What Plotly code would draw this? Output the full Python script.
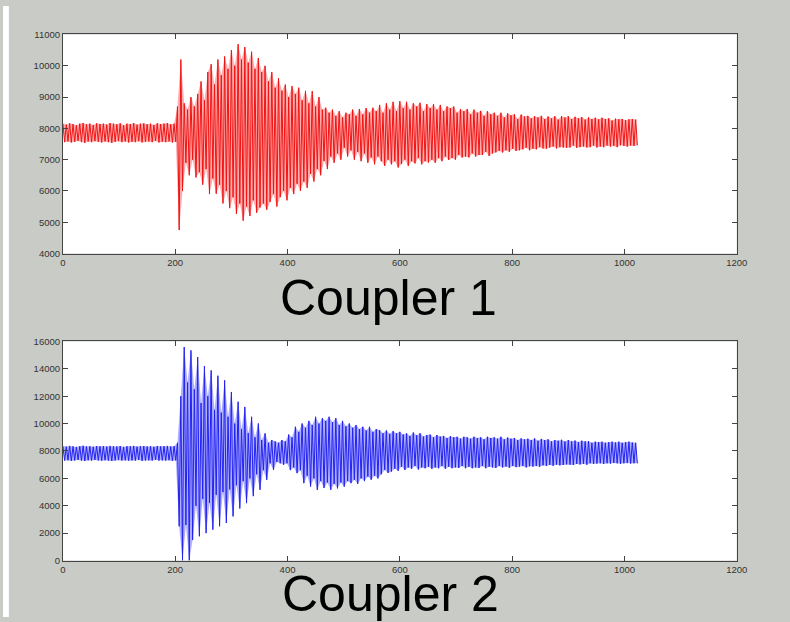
import plotly.graph_objects as go

# Sample spacing of the extremes (samples); highs at 6k, lows at 6k+3
CYCLE = 6

# Coupler 1 (red) - peak (high) and trough (low) values per cycle
red_hi = [
    8150, 8120, 8160, 8140, 8100, 8150, 8170, 8130, 8150, 8110,
    8160, 8140, 8150, 8120, 8170, 8150, 8130, 8160, 8100, 8150,
    8140, 8170, 8120, 8150, 8160, 8130, 8150, 8110, 8160, 8140,
    8150, 8170, 8130, 8150, 8700, 10200, 8800, 8600, 9000, 8700,
    9100, 9500, 8900, 9800, 10050, 9400, 10200, 9700, 10300, 9900,
    10500, 10000, 10690, 10200, 10600, 10100, 10450, 9900, 10250, 9800,
    10000, 9500, 9800, 9300, 9600, 9200, 9400, 9000, 9350, 9100,
    9300, 8900, 9200, 8800, 9190, 8700, 9000, 8600, 8660, 8500,
    8600, 8400, 8550, 8350, 8500, 8450, 8600, 8400, 8620, 8450,
    8650, 8500, 8660, 8550, 8750, 8500, 8800, 8600, 8850, 8550,
    8870, 8650, 8850, 8600, 8800, 8700, 8820, 8550, 8780, 8650,
    8780, 8600, 8750, 8550, 8700, 8650, 8700, 8500, 8620, 8550,
    8620, 8450, 8600, 8500, 8560, 8400, 8550, 8450, 8500, 8400,
    8500, 8350, 8480, 8420, 8450, 8300, 8440, 8380, 8400, 8320,
    8390, 8350, 8400, 8300, 8380, 8320, 8390, 8280, 8390, 8350,
    8390, 8300, 8370, 8320, 8360, 8280, 8350, 8300, 8340, 8290,
    8340, 8300, 8320, 8250, 8310, 8290, 8300, 8260, 8290, 8300, 8280,
]
red_lo = [
    7560, 7580, 7550, 7570, 7600, 7560, 7540, 7580, 7560, 7590,
    7570, 7550, 7580, 7560, 7540, 7570, 7590, 7560, 7580, 7550,
    7570, 7560, 7590, 7550, 7570, 7580, 7560, 7600, 7550, 7570,
    7560, 7580, 7550, 7570, 4750, 6000, 6900, 6500, 7000, 6430,
    6600, 6200, 6700, 5900, 6400, 5910, 6200, 5600, 6000, 5450,
    5800, 5270, 5600, 5050, 5500, 5200, 5700, 5300, 5470, 5600,
    5400, 5650, 5900, 5500, 5800, 6000, 5700, 6100, 5900, 6230,
    6000, 6300, 6100, 6550, 6300, 6700, 6500, 6960, 6700, 7100,
    6900, 7200, 7000, 7380, 7100, 7300, 7000, 7250, 6950, 7200,
    6900, 7070, 6850, 7100, 6950, 6800, 7000, 6850, 6950, 6750,
    6860, 7000, 6800, 6950, 6880, 7050, 6850, 6950, 6910, 7000,
    6900, 7050, 6950, 7100, 6990, 7050, 7000, 7150, 7070, 7100,
    7070, 7200, 7100, 7150, 7150, 7250, 7120, 7200, 7230, 7280,
    7230, 7300, 7250, 7350, 7280, 7300, 7330, 7380, 7300, 7350,
    7330, 7400, 7360, 7350, 7390, 7420, 7360, 7400, 7390, 7380,
    7390, 7450, 7380, 7400, 7420, 7390, 7400, 7450, 7390, 7420,
    7400, 7450, 7420, 7440, 7400, 7460, 7440, 7420, 7450, 7440, 7460,
]

# Coupler 2 (blue)
blue_hi = [
    8350, 8320, 8370, 8340, 8300, 8350, 8380, 8330, 8350, 8310,
    8360, 8340, 8350, 8320, 8370, 8350, 8330, 8360, 8300, 8350,
    8340, 8370, 8320, 8350, 8360, 8330, 8350, 8310, 8360, 8340,
    8350, 8370, 8330, 8350, 8600, 12000, 15590, 13000, 15350, 12500,
    14860, 11500, 14200, 12000, 13890, 11000, 13500, 10800, 13160, 10500,
    12310, 10000, 11600, 9600, 11220, 9300, 10500, 9000, 10010, 8800,
    9290, 8600, 8800, 8700, 8600, 8800, 8700, 9200, 9000, 9770,
    9400, 10010, 9700, 10200, 9900, 10500, 10000, 10400, 10200, 10500,
    10100, 10400, 9900, 10200, 9800, 10010, 9700, 9900, 9600, 9770,
    9500, 9770, 9400, 9600, 9530, 9300, 9500, 9250, 9450, 9300,
    9400, 9200, 9290, 9100, 9350, 9150, 9300, 9050, 9160, 9200,
    9000, 9160, 9050, 9100, 8950, 9080, 9000, 9040, 8900, 9040,
    9000, 8900, 9040, 8950, 9000, 8850, 9040, 8950, 9000, 8900,
    9040, 8850, 8980, 8900, 8950, 8800, 8920, 8850, 8900, 8800,
    8920, 8750, 8880, 8800, 8850, 8700, 8800, 8750, 8820, 8700,
    8800, 8700, 8760, 8650, 8750, 8700, 8720, 8600, 8680, 8650,
    8680, 8600, 8650, 8680, 8620, 8680, 8600, 8650, 8680, 8620, 8600,
]
blue_lo = [
    7300, 7320, 7280, 7310, 7350, 7300, 7270, 7320, 7300, 7340,
    7310, 7290, 7320, 7300, 7270, 7310, 7340, 7300, 7320, 7290,
    7310, 7300, 7340, 7280, 7310, 7320, 7300, 7350, 7290, 7310,
    7300, 7320, 7280, 7310, 2500, 0, 2600, 0, 1500, 4000,
    1770, 4500, 2000, 4200, 2250, 4800, 2500, 5000, 2740, 5200,
    3220, 5500, 3800, 5800, 4190, 6000, 4700, 6300, 5160, 6600,
    5890, 7100, 6620, 7200, 7100, 7000, 7100, 6600, 6800, 6380,
    6600, 5650, 6200, 5400, 6000, 5160, 5800, 5300, 5700, 5160,
    5600, 5270, 5700, 5400, 5800, 5650, 5900, 5600, 6000, 5800,
    6130, 5900, 6200, 6000, 6300, 6620, 6400, 6500, 6700, 6550,
    6860, 6620, 6800, 6700, 6900, 6650, 6800, 6740, 6850, 6700,
    6800, 6740, 6900, 6700, 6850, 6740, 6800, 6760, 6900, 6740,
    6850, 6740, 6800, 6760, 6900, 6740, 6850, 6800, 6760, 6900,
    6800, 6860, 6780, 6900, 6820, 6860, 6900, 6800, 6880, 6860,
    6900, 6850, 6950, 6900, 6980, 6920, 7000, 6950, 6980, 7020,
    7000, 6980, 7050, 7020, 7060, 7000, 7100, 7050, 7080, 7100,
    7050, 7100, 7080, 7120, 7100, 7060, 7100, 7120, 7080, 7100, 7100,
]

x_ticks = [0, 200, 400, 600, 800, 1000, 1200]
red_y_ticks = [4000, 5000, 6000, 7000, 8000, 9000, 10000, 11000]
blue_y_ticks = [0, 2000, 4000, 6000, 8000, 10000, 12000, 14000, 16000]
labels = ["Coupler 1", "Coupler 2"]


def zigzag(hi, lo):
    xs, ys = [], []
    for k, (h, l) in enumerate(zip(hi, lo)):
        xs += [k * CYCLE, k * CYCLE + CYCLE // 2]
        ys += [h, l]
    return xs, ys


def band(hi, lo):
    # closed outline: along the highs, back along the lows
    xs = [k * CYCLE for k in range(len(hi))] + [k * CYCLE + CYCLE // 2 for k in range(len(lo))][::-1]
    ys = list(hi) + list(lo)[::-1]
    return xs, ys


W, H = 790, 622
BG = "#c9ccc6"

rx, ry = zigzag(red_hi, red_lo)
bx, by = zigzag(blue_hi, blue_lo)
rbx, rby = band(red_hi, red_lo)
bbx, bby = band(blue_hi, blue_lo)

fig = go.Figure()
fig.add_trace(go.Scatter(x=rbx, y=rby, mode="lines", fill="toself",
                         fillcolor="rgba(255,110,110,0.55)", line=dict(width=0),
                         xaxis="x", yaxis="y", showlegend=False, hoverinfo="skip"))
fig.add_trace(go.Scatter(x=rx, y=ry, mode="lines", line=dict(color="rgb(240,20,20)", width=1),
                         xaxis="x", yaxis="y", showlegend=False, hoverinfo="skip"))
fig.add_trace(go.Scatter(x=bbx, y=bby, mode="lines", fill="toself",
                         fillcolor="rgba(110,110,255,0.55)", line=dict(width=0),
                         xaxis="x2", yaxis="y2", showlegend=False, hoverinfo="skip"))
fig.add_trace(go.Scatter(x=bx, y=by, mode="lines", line=dict(color="rgb(35,35,240)", width=1),
                         xaxis="x2", yaxis="y2", showlegend=False, hoverinfo="skip"))

axis_common = dict(
    showline=True, linecolor="#444444", linewidth=1, mirror="ticks",
    ticks="inside", ticklen=5, tickcolor="#444444", showgrid=False, zeroline=False,
    tickformat="d",
    tickfont=dict(family="Liberation Sans, Arial, sans-serif", size=9.5, color="#333333"),
    fixedrange=True,
)

x0, x1 = 61 / W, 747 / W
fig.update_layout(
    width=W, height=H, autosize=False,
    margin=dict(l=0, r=0, t=0, b=0),
    paper_bgcolor=BG, plot_bgcolor="white",
    xaxis=dict(domain=[x0, x1], range=[0, 1200], tickvals=x_ticks, anchor="y", **axis_common),
    yaxis=dict(domain=[1 - 252 / H, 1 - 29 / H], range=[4000, 11000], tickvals=red_y_ticks,
               anchor="x", **axis_common),
    xaxis2=dict(domain=[x0, x1], range=[0, 1200], tickvals=x_ticks, anchor="y2", **axis_common),
    yaxis2=dict(domain=[1 - 564.5 / H, 1 - 341.5 / H], range=[0, 16000], tickvals=blue_y_ticks,
                anchor="x2", **axis_common),
    shapes=[dict(type="rect", xref="paper", yref="paper", x0=0, x1=6 / W, y0=0, y1=1,
                 fillcolor="white", line=dict(width=0), layer="below")],
    annotations=[
        dict(text=labels[0], xref="paper", yref="paper", x=392 / W, y=1 - 297 / H,
             xanchor="center", yanchor="middle", showarrow=False,
             font=dict(family="Liberation Sans, Arial, sans-serif", size=50, color="black")),
        dict(text=labels[1], xref="paper", yref="paper", x=394 / W, y=1 - 598.5 / H,
             xanchor="center", yanchor="middle", showarrow=False,
             font=dict(family="Liberation Sans, Arial, sans-serif", size=50, color="black")),
    ],
)

fig.write_html(
    "out.html",
    config={"responsive": False, "displayModeBar": False},
    default_width="790px", default_height="622px",
    post_script="document.body.style.margin='0';document.body.style.overflow='hidden';",
)
